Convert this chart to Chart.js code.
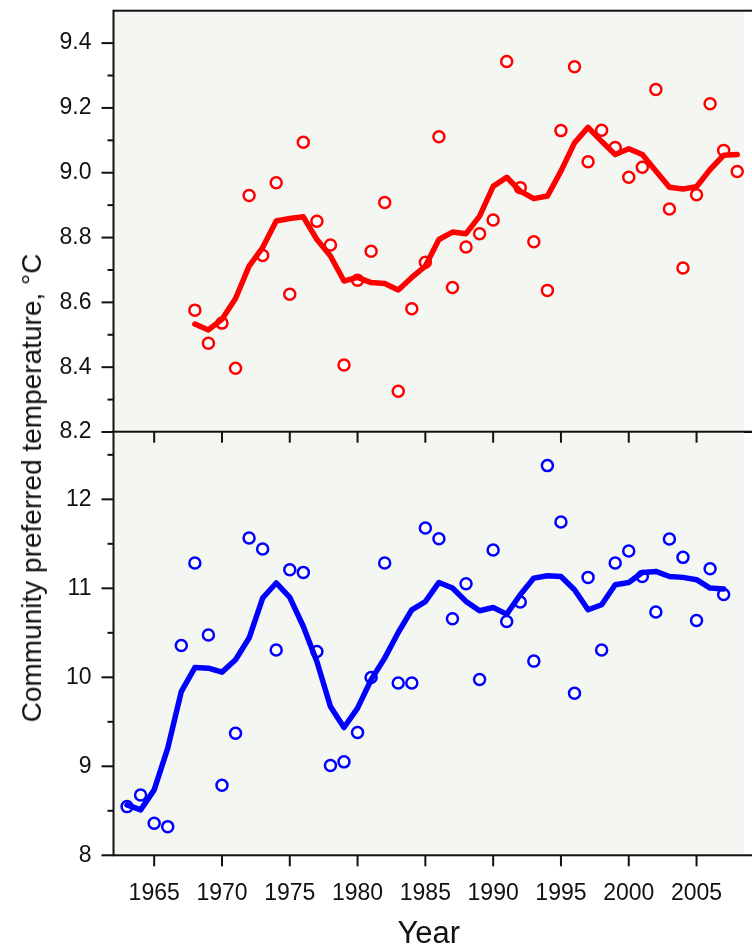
<!DOCTYPE html>
<html>
<head>
<meta charset="utf-8">
<script src="https://cdn.jsdelivr.net/npm/chart.js@4"></script>
<style>
    body { margin: 0; background: #fff; width: 752px; height: 946px; overflow: hidden; position: relative; font-family: "Liberation Sans", Arial, sans-serif; }
    #topChart { position: absolute; left: 0; top: 0; }
    #botChart { position: absolute; left: 0; top: 420px; }
    #yTitle { position: absolute; left: 32px; top: 488px; transform: translate(-50%, -50%) rotate(-90deg); white-space: nowrap; font-size: 28px; color: #111; }
</style>
</head>
<body>
<canvas id="topChart" width="752" height="440"></canvas>
<canvas id="botChart" width="752" height="540"></canvas>
<div id="yTitle">Community preferred temperature, °C</div>
<script>
// red panel (top), 1968-2008
const topYears = [1968, 1969, 1970, 1971, 1972, 1973, 1974, 1975, 1976, 1977, 1978, 1979, 1980, 1981, 1982, 1983, 1984, 1985, 1986, 1987,
    1988, 1989, 1990, 1991, 1992, 1993, 1994, 1995, 1996, 1997, 1998, 1999, 2000, 2001, 2002, 2003, 2004, 2005, 2006, 2007, 2008];
const topPoints = [8.576, 8.474, 8.536, 8.397, 8.930, 8.745, 8.969, 8.625, 9.094, 8.850, 8.777, 8.407, 8.668, 8.758, 8.908, 8.326, 8.580, 8.724, 9.111, 8.646,
    8.771, 8.812, 8.854, 9.343, 8.954, 8.787, 8.637, 9.130, 9.327, 9.034, 9.131, 9.078, 8.986, 9.017, 9.257, 8.888, 8.706, 8.932, 9.213, 9.069, 9.004];
const topSmooth = [8.533, 8.515, 8.548, 8.612, 8.712, 8.769, 8.851, 8.859, 8.864, 8.794, 8.743, 8.666, 8.677, 8.661, 8.658, 8.638, 8.677, 8.712, 8.794, 8.817,
    8.812, 8.866, 8.958, 8.986, 8.943, 8.920, 8.928, 9.005, 9.092, 9.140, 9.097, 9.056, 9.074, 9.056, 9.005, 8.955, 8.950, 8.957, 9.010, 9.054, 9.056];

// blue panel (bottom), 1963-2007
const botYears = [1963, 1964, 1965, 1966, 1967, 1968, 1969, 1970, 1971, 1972, 1973, 1974, 1975, 1976, 1977, 1978, 1979, 1980, 1981, 1982,
    1983, 1984, 1985, 1986, 1987, 1988, 1989, 1990, 1991, 1992, 1993, 1994, 1995, 1996, 1997, 1998, 1999, 2000, 2001, 2002,
    2003, 2004, 2005, 2006, 2007];
const botPoints = [8.547, 8.678, 8.360, 8.322, 10.358, 11.285, 10.475, 8.787, 9.372, 11.566, 11.442, 10.306, 11.209, 11.179, 10.290, 9.008, 9.050, 9.379, 9.998, 11.285,
    9.935, 9.935, 11.678, 11.558, 10.658, 11.052, 9.975, 11.431, 10.628, 10.846, 10.182, 12.379, 11.746, 9.822, 11.123, 10.306, 11.285, 11.420, 11.134, 10.733,
    11.555, 11.348, 10.639, 11.220, 10.931];
const botSmooth = [8.566, 8.510, 8.735, 9.204, 9.840, 10.110, 10.103, 10.058, 10.197, 10.441, 10.891, 11.060, 10.898, 10.571, 10.177, 9.672, 9.436, 9.654, 9.972, 10.216,
    10.504, 10.759, 10.850, 11.066, 11.003, 10.853, 10.748, 10.785, 10.710, 10.928, 11.115, 11.141, 11.133, 10.984, 10.759, 10.815, 11.040, 11.066, 11.178, 11.190,
    11.133, 11.123, 11.097, 11.003, 10.992];

// axes
const xMin = 1962, xMax = 2008.5;
const xTicks = [1965, 1970, 1975, 1980, 1985, 1990, 1995, 2000, 2005];
const topMin = 8.2, topMax = 9.5;
const topMajor = [8.2, 8.4, 8.6, 8.8, 9.0, 9.2, 9.4];
const topMinor = [8.3, 8.5, 8.7, 8.9, 9.1, 9.3];
const botMin = 8, botMax = 12.76;
const botMajor = [8, 9, 10, 11, 12];
const botMinor = [8.5, 9.5, 10.5, 11.5, 12.5];

const plotBg = '#f4f6f1';
const inkColor = '#111';
const fontFamily = '"Liberation Sans", Arial, sans-serif';
const tickFont = { family: fontFamily, size: 23 };

const toXY = (xs, ys) => xs.map((x, i) => ({ x: x, y: ys[i] }));

const framePlugin = {
    id: 'frame',
    beforeDraw(chart, args, opts) {
        const { ctx, chartArea: a } = chart;
        ctx.save();
        ctx.fillStyle = plotBg;
        ctx.fillRect(a.left, a.top, a.right - a.left, a.bottom - a.top);
        ctx.restore();
    },
    afterDraw(chart, args, opts) {
        const { ctx, chartArea: a, scales } = chart;
        const seg = (x1, y1, x2, y2) => { ctx.beginPath(); ctx.moveTo(x1, y1); ctx.lineTo(x2, y2); ctx.stroke(); };
        ctx.save();
        ctx.strokeStyle = inkColor;
        ctx.lineWidth = 2;
        ctx.strokeRect(a.left, a.top, a.right - a.left + 10, a.bottom - a.top);
        opts.major.forEach(v => { const y = scales.y.getPixelForValue(v); seg(a.left - 12, y, a.left, y); });
        opts.minor.forEach(v => { const y = scales.y.getPixelForValue(v); seg(a.left - 6, y, a.left, y); });
        if (opts.xTicks) {
            opts.xTicks.forEach(v => {
                const x = scales.x.getPixelForValue(v);
                seg(x, a.top, x, a.top + 11);
                seg(x, a.bottom, x, a.bottom + 11);
            });
        }
        ctx.restore();
    }
};

function makeChart(id, years, points, smooth, color, yMin, yMax, major, minor, bottom) {
    const ctx = document.getElementById(id).getContext('2d');
    return new Chart(ctx, {
        type: 'scatter',
        data: {
            datasets: [
                {
                    type: 'line',
                    data: toXY(years, smooth),
                    borderColor: color,
                    borderWidth: 5.5,
                    borderJoinStyle: 'round',
                    borderCapStyle: 'round',
                    pointRadius: 0,
                    fill: false,
                    tension: 0
                },
                {
                    data: toXY(years, points),
                    pointStyle: 'circle',
                    pointRadius: 5.5,
                    borderWidth: 2.5,
                    borderColor: color,
                    backgroundColor: '#ffffff'
                }
            ]
        },
        options: {
            responsive: false,
            animation: false,
            layout: { padding: bottom ? { top: 11.7, right: 0, bottom: 0, left: 0 } : { top: 10.7, right: 0, bottom: 7.7, left: 0 } },
            plugins: {
                legend: { display: false },
                tooltip: { enabled: false },
                frame: { major: major, minor: minor, xTicks: bottom ? xTicks : null }
            },
            scales: {
                x: {
                    type: 'linear',
                    min: xMin,
                    max: xMax,
                    display: bottom,
                    grid: { display: false, drawTicks: false },
                    border: { display: false },
                    afterBuildTicks: s => { s.ticks = xTicks.map(v => ({ value: v })); },
                    afterFit: s => {
                        if (bottom) s.height = 104.7;
                        s.paddingLeft = 0;
                        s.paddingRight = 0;
                    },
                    ticks: {
                        font: tickFont,
                        color: inkColor,
                        padding: 24.5,
                        maxRotation: 0,
                        autoSkip: false,
                        callback: v => String(v)
                    },
                    title: {
                        display: true,
                        text: 'Year',
                        color: inkColor,
                        font: { family: fontFamily, size: 31 },
                        padding: { top: 0, bottom: 7 }
                    }
                },
                y: {
                    min: yMin,
                    max: yMax,
                    grid: { display: false, drawTicks: false },
                    border: { display: false },
                    afterBuildTicks: s => { s.ticks = major.map(v => ({ value: v })); },
                    afterFit: s => {
                        s.width = 113.5;
                        s.paddingTop = 0;
                        s.paddingBottom = 0;
                    },
                    ticks: {
                        font: tickFont,
                        color: inkColor,
                        padding: 22,
                        autoSkip: false,
                        callback: v => bottom ? String(v) : v.toFixed(1)
                    }
                }
            }
        },
        plugins: [framePlugin]
    });
}

try {
    makeChart('topChart', topYears, topPoints, topSmooth, '#ff0000', topMin, topMax, topMajor, topMinor, false);
    makeChart('botChart', botYears, botPoints, botSmooth, '#0000ff', botMin, botMax, botMajor, botMinor, true);
} catch (error) {
    console.error('Error drawing charts:', error);
}
</script>
</body>
</html>
